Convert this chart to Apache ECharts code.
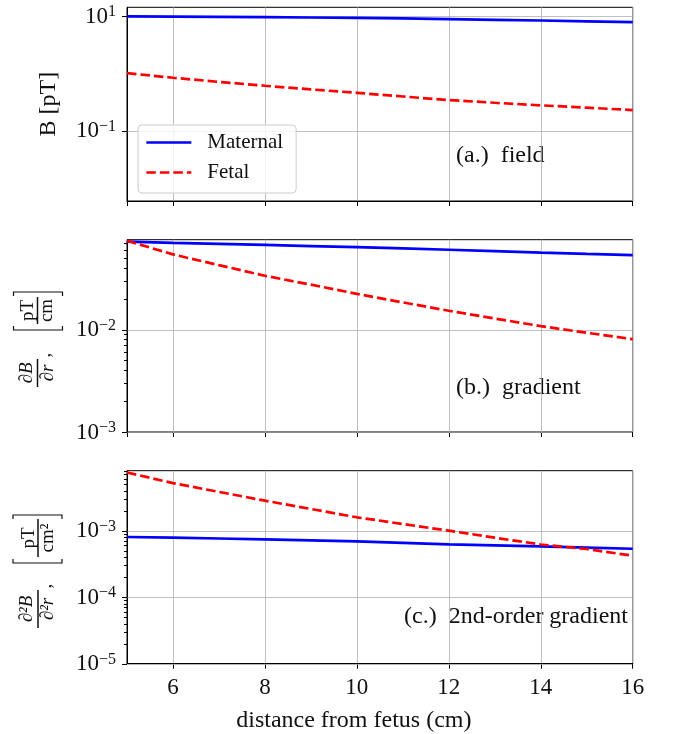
<!DOCTYPE html>
<html>
<head>
<meta charset="utf-8">
<script src="https://cdn.jsdelivr.net/npm/echarts@6/dist/echarts.min.js"></script>
<style>
html,body{margin:0;padding:0;background:#fff;}
#chart{width:673px;height:734px;}
</style>
</head>
<body>
<div id="chart"></div>
<script>
// ---------------- data ----------------
const distances = [5, 6, 7, 8, 9, 10, 11, 12, 13, 14, 15, 16];
const fieldMaternal = [9.88, 9.8, 9.7, 9.55, 9.42, 9.3, 9.1, 8.85, 8.6, 8.35, 8.1, 7.86];
const fieldFetal = [1.01, 0.838, 0.71, 0.608, 0.525, 0.458, 0.395, 0.342, 0.307, 0.277, 0.252, 0.229];
const gradMaternal = [0.0722, 0.0700, 0.0685, 0.0669, 0.0653, 0.0637, 0.0619, 0.0601, 0.0582, 0.0562, 0.0547, 0.0533];
const gradFetal = [0.0735, 0.0541, 0.0425, 0.0335, 0.0274, 0.0223, 0.0184, 0.01524, 0.0128, 0.0108, 0.0093, 0.00805];
const grad2Maternal = [8.04e-4, 7.85e-4, 7.63e-4, 7.41e-4, 7.16e-4, 6.92e-4, 6.57e-4, 6.23e-4, 6.02e-4, 5.82e-4, 5.58e-4, 5.35e-4];
const grad2Fetal = [0.0075, 0.00519, 0.00383, 0.00283, 0.00212, 0.00159, 0.00126, 0.00100, 7.85e-4, 6.2e-4, 5.3e-4, 4.2e-4];

const xTickLabels = ['6', '8', '10', '12', '14', '16'];
const yMajor1 = [0.1, 10];
const yMinor1 = [];
const yMajor2 = [0.001, 0.01];
const yMinor2 = [0.002, 0.003, 0.004, 0.005, 0.006, 0.007, 0.008, 0.009, 0.02, 0.03, 0.04, 0.05, 0.06, 0.07];
const yMajor3 = [1e-5, 1e-4, 1e-3];
const yMinor3 = [2e-5, 3e-5, 4e-5, 5e-5, 6e-5, 7e-5, 8e-5, 9e-5, 2e-4, 3e-4, 4e-4, 5e-4, 6e-4, 7e-4, 8e-4, 9e-4, 2e-3, 3e-3, 4e-3, 5e-3, 6e-3, 7e-3, 8e-3];
const yLabelExp1 = [1, -1];
const yLabelExp2 = [-2, -3];
const yLabelExp3 = [-3, -4, -5];

const X_MIN = 5, X_MAX = 16;
const yRange1 = [0.00594, 14.2];
const yRange2 = [0.001, 0.0753];
const yRange3 = [0.00001, 0.00798];

// ---------------- style ----------------
const SERIF = "'Liberation Serif', 'DejaVu Serif', serif";
const TXT = '#111';
const GRIDC = '#b0b0b0';
const BLUE = '#0000ff', RED = '#ff0000';

const grids = [
  {left: 127, top: 7.3, width: 505.7, height: 193.7},
  {left: 127, top: 239.7, width: 505.7, height: 192.3},
  {left: 127, top: 470.7, width: 505.7, height: 193}
].map(g => Object.assign(g, {show: true, borderColor: '#000', borderWidth: 1, backgroundColor: 'transparent', containLabel: false}));

function xAxisFor(i) {
  const bottom = i === 2;
  const ax = {
    type: 'value', gridIndex: i, min: X_MIN, max: X_MAX, splitNumber: 5,
    axisLine: {show: true, onZero: false, lineStyle: {color: '#000', width: 1}},
    axisTick: {show: true, inside: false, length: 5, lineStyle: {color: '#000', width: 1}},
    splitLine: {show: true, lineStyle: {color: GRIDC, width: 0.8}},
    axisLabel: {
      show: bottom, showMinLabel: false, margin: 13,
      fontFamily: SERIF, fontSize: 23, color: TXT,
      formatter: v => (xTickLabels.indexOf(String(v)) >= 0 ? String(v) : '')
    }
  };
  if (bottom) {
    ax.name = 'distance from fetus (cm)';
    ax.nameLocation = 'middle';
    ax.nameGap = 45;
    ax.nameTextStyle = {fontFamily: SERIF, fontSize: 24, color: TXT, padding: [0, 52, 0, 0]};
  }
  return ax;
}

function powLabel(allowed) {
  return function (v) {
    const l = Math.log10(v);
    const e = Math.round(l);
    if (Math.abs(l - e) > 1e-6 || allowed.indexOf(e) < 0) return '';
    return '{b|10}{s|' + (e < 0 ? '\u2212' : '') + Math.abs(e) + '}';
  };
}

function yAxisFor(i, range, allowed, extra) {
  const ax = {
    type: 'log', logBase: 10, gridIndex: i, min: range[0], max: range[1],
    axisLine: {show: true, onZero: false, lineStyle: {color: '#000', width: 1}},
    axisTick: {show: false},
    splitLine: {show: false},
    minorTick: {show: false},
    axisLabel: {
      show: true, margin: 11, showMinLabel: true, showMaxLabel: true,
      formatter: powLabel(allowed),
      rich: {
        b: {fontFamily: SERIF, fontSize: 23, color: TXT, lineHeight: 24, verticalAlign: 'bottom'},
        s: {fontFamily: SERIF, fontSize: 16, color: TXT, lineHeight: 14, verticalAlign: 'top'}
      }
    }
  };
  return Object.assign(ax, extra || {});
}

function tickData(major, minor) {
  return major.map(v => [X_MIN, v, 0]).concat(minor.map(v => [X_MIN, v, 1]));
}

function tickSeries(i, major, minor) {
  return {
    type: 'custom', xAxisIndex: i, yAxisIndex: i, clip: false, silent: true, z: 1,
    data: tickData(major, minor),
    encode: {x: 0, y: 1},
    renderItem: function (params, api) {
      const v = api.value(1);
      const kind = api.value(2);
      const p0 = api.coord([X_MIN, v]);
      const p1 = api.coord([X_MAX, v]);
      const len = kind === 0 ? 5 : 3;
      const y = Math.round(p0[1]) + 0.5;
      const children = [{
        type: 'line', shape: {x1: p0[0] - len, y1: y, x2: p0[0], y2: y},
        style: {stroke: '#000', lineWidth: 1}
      }];
      if (kind === 0) {
        children.push({
          type: 'line', shape: {x1: p0[0] + 0.5, y1: y, x2: p1[0] - 0.5, y2: y},
          style: {stroke: GRIDC, lineWidth: 0.8}
        });
      }
      return {type: 'group', children: children};
    }
  };
}

function pairs(vals) { return distances.map((x, k) => [x, vals[k]]); }

function lineSeries(name, i, vals, color, dashed) {
  return {
    type: 'line', name: name, xAxisIndex: i, yAxisIndex: i,
    data: pairs(vals), symbol: 'none', showSymbol: false, z: 3,
    lineStyle: {color: color, width: 2.7, type: dashed ? [9.5, 4] : 'solid', cap: 'butt'},
    itemStyle: {color: color}
  };
}

// ---------------- rotated LaTeX-like y titles ----------------
const italic = {fontFamily: SERIF, fontStyle: 'italic', fontSize: 19, fill: TXT, align: 'center', verticalAlign: 'middle'};
const roman = {fontFamily: SERIF, fontSize: 19, fill: TXT, align: 'center', verticalAlign: 'middle'};
function txt(x, y, s, base) { return {type: 'text', x: x, y: y, style: Object.assign({text: s}, base)}; }
function hline(x1, x2, w) { return {type: 'line', shape: {x1: x1, y1: 0, x2: x2, y2: 0}, style: {stroke: TXT, lineWidth: w || 1.5}}; }
function bracket(x, dir, y1, y2) {
  return {type: 'polyline', shape: {points: [[x + 4 * dir, y1], [x, y1], [x, y2], [x + 4 * dir, y2]]}, style: {stroke: TXT, lineWidth: 1.2, fill: null}};
}

const title2 = {
  type: 'group', x: 37.5, y: 338, rotation: Math.PI / 2, silent: true,
  children: [
    txt(-35, -11, '\u2202B', italic), hline(-49, -21), txt(-35, 10, '\u2202r', italic),
    txt(-17, 8, ',', roman),
    bracket(8, 1, -24, 25), bracket(46, -1, -24, 25),
    txt(27.5, -9, 'pT', roman), hline(14, 41), txt(27.5, 10, 'cm', roman)
  ]
};
const title3 = {
  type: 'group', x: 38, y: 571, rotation: Math.PI / 2, silent: true,
  children: [
    txt(-38, -11, '\u2202\u00b2B', italic), hline(-57, -19), txt(-38, 10, '\u2202\u00b2r', italic),
    txt(-15, 8, ',', roman),
    bracket(8, 1, -25, 24), bracket(56, -1, -25, 24),
    txt(33, -9, 'pT', roman), hline(14, 52), txt(33, 10, 'cm\u00b2', roman)
  ]
};

const annot = {fontFamily: SERIF, fontSize: 24, fill: TXT, verticalAlign: 'middle'};

const option = {
  animation: false,
  backgroundColor: '#fff',
  grid: grids,
  xAxis: [xAxisFor(0), xAxisFor(1), xAxisFor(2)],
  yAxis: [
    yAxisFor(0, yRange1, yLabelExp1, {
      name: 'B [pT]', nameLocation: 'middle', nameGap: 66, nameRotate: 90,
      nameTextStyle: {fontFamily: SERIF, fontSize: 24, color: TXT}
    }),
    yAxisFor(1, yRange2, yLabelExp2),
    yAxisFor(2, yRange3, yLabelExp3)
  ],
  legend: {
    data: ['Maternal', 'Fetal'], orient: 'vertical', left: 138, top: 125,
    itemWidth: 45, itemHeight: 14, itemGap: 9, padding: [7, 13, 10, 7],
    backgroundColor: 'rgba(255,255,255,0.8)', borderColor: '#cccccc', borderWidth: 1, borderRadius: 4,
    itemStyle: {color: 'rgba(0,0,0,0)', borderColor: 'rgba(0,0,0,0)', borderWidth: 0, opacity: 0},
    lineStyle: {width: 2.7},
    textStyle: {fontFamily: SERIF, fontSize: 21, lineHeight: 20, color: TXT, padding: [0, 0, 0, 11]},
    selectedMode: false
  },
  graphic: [
    title2, title3,
    {type: 'text', x: 456, y: 155.5, silent: true, style: Object.assign({text: '(a.)\u2002field', align: 'left'}, annot)},
    {type: 'text', x: 456, y: 388, silent: true, style: Object.assign({text: '(b.)\u2002gradient', align: 'left'}, annot)},
    {type: 'text', x: 628, y: 616.5, silent: true, style: Object.assign({text: '(c.)\u20022nd-order gradient', align: 'right'}, annot)}
  ],
  series: [
    tickSeries(0, yMajor1, yMinor1),
    tickSeries(1, yMajor2, yMinor2),
    tickSeries(2, yMajor3, yMinor3),
    lineSeries('Maternal', 0, fieldMaternal, BLUE, false),
    lineSeries('Fetal', 0, fieldFetal, RED, true),
    lineSeries('Maternal', 1, gradMaternal, BLUE, false),
    lineSeries('Fetal', 1, gradFetal, RED, true),
    lineSeries('Maternal', 2, grad2Maternal, BLUE, false),
    lineSeries('Fetal', 2, grad2Fetal, RED, true)
  ]
};

const chart = echarts.init(document.getElementById('chart'), null, {renderer: 'canvas'});
chart.setOption(option);
</script>
</body>
</html>
